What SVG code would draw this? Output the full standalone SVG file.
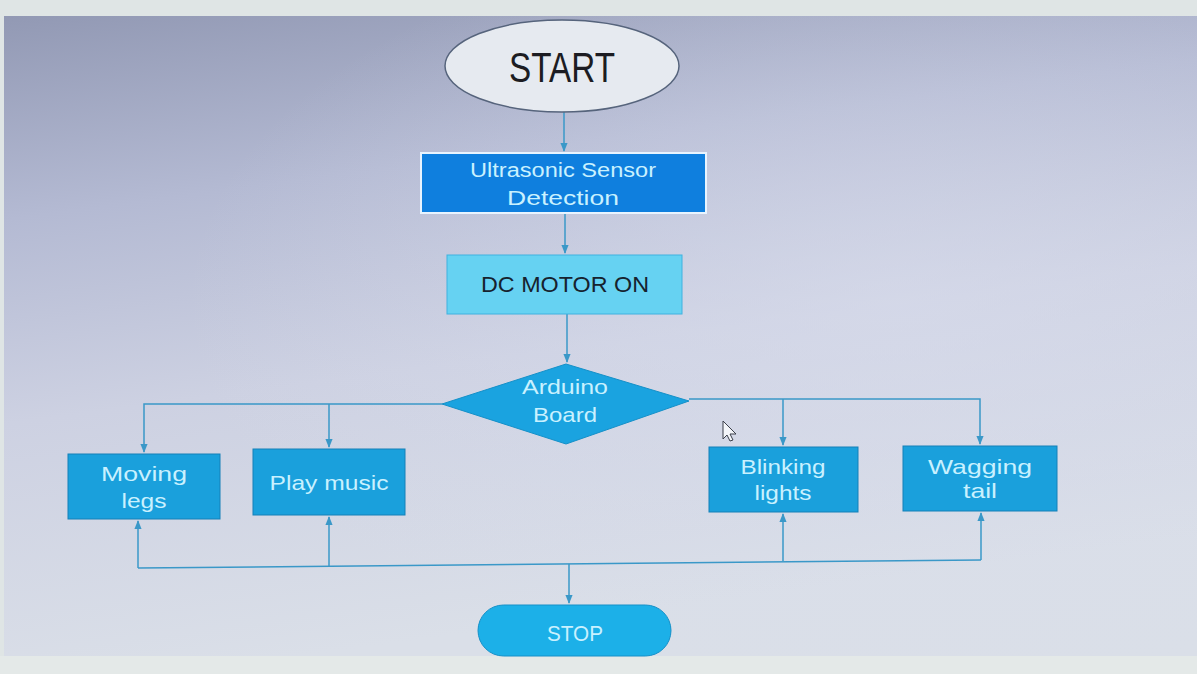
<svg xmlns="http://www.w3.org/2000/svg" width="1197" height="674" viewBox="0 0 1197 674">
<defs>
<linearGradient id="bg" x1="0" y1="0" x2="0.25" y2="1">
<stop offset="0" stop-color="#9299b4"/>
<stop offset="0.3" stop-color="#b4bad3"/>
<stop offset="0.6" stop-color="#cdd1e2"/>
<stop offset="1" stop-color="#dadfe8"/>
</linearGradient>
<radialGradient id="glow" cx="0.75" cy="0.45" r="0.6">
<stop offset="0" stop-color="#d8dcec" stop-opacity="0.6"/>
<stop offset="1" stop-color="#d8dcec" stop-opacity="0"/>
</radialGradient>
<marker id="ah" viewBox="0 0 10 10" refX="9" refY="5" markerWidth="6" markerHeight="6" orient="auto">
<path d="M0,1 L10,5 L0,9 z" fill="#3a98c8"/>
</marker>
<style>
.con{fill:none;stroke:#3a98c8;stroke-width:1.5}
.lbl{font-family:"Liberation Sans",Arial,sans-serif;text-anchor:middle}
.lt{fill:#c9f1ff}
.box{fill:#1aa0dc;stroke:#1580b8;stroke-width:1}
</style>
</defs>
<rect x="0" y="0" width="1197" height="674" fill="#dfe5e5"/>
<rect x="4" y="16" width="1193" height="640" fill="url(#bg)"/>
<rect x="4" y="16" width="1193" height="640" fill="url(#glow)"/>
<rect x="0" y="656" width="1197" height="18" fill="#e4e9e8"/>

<g id="connectors">
<path class="con" d="M564,112 V151" marker-end="url(#ah)"/>
<path class="con" d="M565,213 V253" marker-end="url(#ah)"/>
<path class="con" d="M567,314 V362" marker-end="url(#ah)"/>
<path class="con" d="M442,404 H144 V452" marker-end="url(#ah)"/>
<path class="con" d="M329,404 V447" marker-end="url(#ah)"/>
<path class="con" d="M689,399 H980 V444" marker-end="url(#ah)"/>
<path class="con" d="M783,399 V445" marker-end="url(#ah)"/>
<path class="con" d="M138,568 L981,560"/>
<path class="con" d="M138,568 V521" marker-end="url(#ah)"/>
<path class="con" d="M329,566 V517" marker-end="url(#ah)"/>
<path class="con" d="M783,561 V514" marker-end="url(#ah)"/>
<path class="con" d="M981,560 V513" marker-end="url(#ah)"/>
<path class="con" d="M569,564 V603" marker-end="url(#ah)"/>
</g>

<g id="start">
<ellipse cx="562" cy="66" rx="117" ry="46" fill="#e6eaf0" stroke="#56647c" stroke-width="1.5"/>
<text class="lbl" x="562" y="82" font-size="42" fill="#1c1c22" textLength="106" lengthAdjust="spacingAndGlyphs">START</text>
</g>

<g id="ultrasonic">
<rect x="421" y="153" width="285" height="60" fill="#0f7fde" stroke="#e8f4ff" stroke-width="2"/>
<text class="lbl lt" x="563" y="177" font-size="20" textLength="186" lengthAdjust="spacingAndGlyphs">Ultrasonic Sensor</text>
<text class="lbl lt" x="563" y="205" font-size="20" textLength="112" lengthAdjust="spacingAndGlyphs">Detection</text>
</g>

<g id="dcmotor">
<rect x="447" y="255" width="235" height="59" fill="#66d2f2" stroke="#3fb2e0" stroke-width="1"/>
<text class="lbl" x="565" y="292" font-size="22" fill="#16222e" textLength="168" lengthAdjust="spacingAndGlyphs">DC MOTOR ON</text>
</g>

<g id="arduino">
<polygon points="566,364 689,401 566,444 442,404" fill="#1aa3e0" stroke="#1590c8" stroke-width="1"/>
<text class="lbl lt" x="565" y="394" font-size="21" textLength="86" lengthAdjust="spacingAndGlyphs">Arduino</text>
<text class="lbl lt" x="565" y="422" font-size="21" textLength="64" lengthAdjust="spacingAndGlyphs">Board</text>
</g>

<g id="moving-legs">
<rect class="box" x="68" y="454" width="152" height="65"/>
<text class="lbl lt" x="144" y="481" font-size="21" textLength="86" lengthAdjust="spacingAndGlyphs">Moving</text>
<text class="lbl lt" x="144" y="508" font-size="21" textLength="45" lengthAdjust="spacingAndGlyphs">legs</text>
</g>

<g id="play-music">
<rect class="box" x="253" y="449" width="152" height="66"/>
<text class="lbl lt" x="329" y="490" font-size="21" textLength="119" lengthAdjust="spacingAndGlyphs">Play music</text>
</g>

<g id="blinking-lights">
<rect class="box" x="709" y="447" width="149" height="65"/>
<text class="lbl lt" x="783" y="474" font-size="21" textLength="85" lengthAdjust="spacingAndGlyphs">Blinking</text>
<text class="lbl lt" x="783" y="500" font-size="21" textLength="57" lengthAdjust="spacingAndGlyphs">lights</text>
</g>

<g id="wagging-tail">
<rect class="box" x="903" y="446" width="154" height="65"/>
<text class="lbl lt" x="980" y="474" font-size="21" textLength="104" lengthAdjust="spacingAndGlyphs">Wagging</text>
<text class="lbl lt" x="980" y="498" font-size="21" textLength="34" lengthAdjust="spacingAndGlyphs">tail</text>
</g>

<g id="stop">
<rect x="478" y="605" width="193" height="51" rx="25.5" fill="#1cb0e8" stroke="#1590c8" stroke-width="1"/>
<text class="lbl lt" x="575" y="641" font-size="22" textLength="56" lengthAdjust="spacingAndGlyphs">STOP</text>
</g>

<g id="cursor">
<polygon points="723,421 723,439 727,435 730,441 733,440 730,434 736,434" fill="#f4f6fa" stroke="#3a3f4a" stroke-width="1"/>
</g>
</svg>
